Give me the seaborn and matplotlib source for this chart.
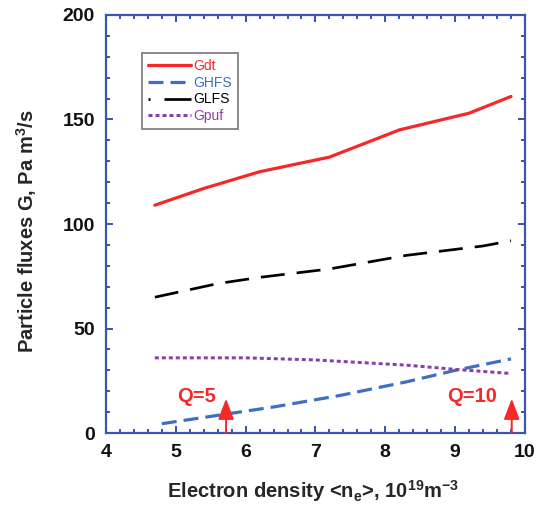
import matplotlib
matplotlib.use("Agg")
import matplotlib.pyplot as plt
import seaborn as sns
import numpy as np
from matplotlib.ticker import MultipleLocator

sns.set_theme(style="white")
plt.rcParams["font.family"] = ["Liberation Sans", "DejaVu Sans"]
plt.rcParams["lines.scale_dashes"] = False
plt.rcParams["mathtext.fontset"] = "custom"
plt.rcParams["mathtext.rm"] = "Liberation Sans"
plt.rcParams["mathtext.bf"] = "Liberation Sans:bold"

# Particle fluxes vs. line-averaged electron density
gdt_x = [4.7, 5.4, 6.2, 7.2, 8.2, 9.2, 9.8]
gdt_y = [109, 117, 125, 132, 145, 153, 161]

ghfs_x = [4.8, 5.6, 6.4, 7.35, 8.3, 9.0, 9.8]
ghfs_y = [4.5, 8.5, 12.5, 18, 24.5, 30, 35.5]

glfs_x = [4.7, 5.6, 6.2, 7.2, 8.3, 9.4, 9.8]
glfs_y = [65, 71.5, 74.5, 78.5, 85, 89.5, 92]

gpuf_x = [4.7, 6.0, 7.0, 8.3, 9.0, 9.8]
gpuf_y = [36, 36, 35, 32.5, 30.5, 28.5]

# Q markers: density where each Q value is reached
q_labels = ["Q=5", "Q=10"]
q_density = [5.72, 9.81]

PX = 0.72  # points per pixel at 100 dpi

fig = plt.figure(figsize=(5.46, 5.15), dpi=100)
ax = fig.add_axes([0.194, 0.159, 0.7675, 0.812])

red = "#f5282a"
blue = "#3f6fc4"
purple = "#8a3fa8"
axis_blue = "#3d55b0"

sns.lineplot(x=gdt_x, y=gdt_y, ax=ax, color=red, lw=3.2 * PX, label="Gdt")
sns.lineplot(x=ghfs_x, y=ghfs_y, ax=ax, color=blue, lw=3.2 * PX,
             linestyle=(0, (15 * PX, 7 * PX)), label="GHFS")
sns.lineplot(x=glfs_x, y=glfs_y, ax=ax, color="black", lw=2.7 * PX,
             linestyle=(0, (24 * PX, 12 * PX)), label="GLFS")
sns.lineplot(x=gpuf_x, y=gpuf_y, ax=ax, color=purple, lw=3 * PX,
             linestyle=(0, (4 * PX, 3 * PX)), label="Gpuf")

ax.set_xlim(4, 10)
ax.set_ylim(0, 200)
ax.xaxis.set_major_locator(MultipleLocator(1))
ax.xaxis.set_minor_locator(MultipleLocator(0.2))
ax.yaxis.set_major_locator(MultipleLocator(50))
ax.yaxis.set_minor_locator(MultipleLocator(10))

for s in ax.spines.values():
    s.set_color(axis_blue)
    s.set_linewidth(2.2 * PX)

ax.tick_params(which="both", direction="in", top=True, right=True,
               bottom=True, left=True, color=axis_blue, width=2 * PX)
ax.tick_params(which="major", length=7 * PX, labelsize=14, pad=8)
ax.tick_params(which="minor", length=4 * PX)
for lab in ax.get_xticklabels() + ax.get_yticklabels():
    lab.set_fontweight("bold")
    lab.set_color("#111111")

ax.set_xlabel(r"Electron density <n$_\mathbf{e}$>, 10$^\mathbf{19}$m$^\mathbf{-3}$",
              fontsize=14.5, fontweight="bold")
ax.set_ylabel(r"Particle fluxes G, Pa m$^\mathbf{3}$/s",
              fontsize=14.5, fontweight="bold")
ax.xaxis.set_label_coords(0.494, -0.108)
ax.yaxis.set_label_coords(-0.16, 0.483)

# Q arrows and labels
for lab, xq, tx in zip(q_labels, q_density, [5.3, 9.24]):
    ax.annotate("", xy=(xq, 16.5), xytext=(xq, 0),
                arrowprops=dict(arrowstyle="-|>,head_length=1.05,head_width=0.4",
                                color=red, lw=2 * PX, shrinkA=0, shrinkB=0))
    ax.text(tx, 17.5, lab, color=red, fontsize=14.5, fontweight="bold",
            ha="center", va="center")

leg = ax.legend(loc="upper left", bbox_to_anchor=(0.086, 0.91), fontsize=10,
                frameon=True, fancybox=False, edgecolor="#555555",
                handlelength=3.1, handletextpad=0.15, borderpad=0.45,
                labelspacing=0.2, borderaxespad=0)
leg.get_frame().set_linewidth(1.2)
for line, text in zip(leg.get_lines(), leg.get_texts()):
    text.set_color(line.get_color())
leg.get_lines()[2].set_dashes([2 * PX, 14 * PX, 40 * PX, 10 * PX])

fig.savefig("out.png", dpi=100)
